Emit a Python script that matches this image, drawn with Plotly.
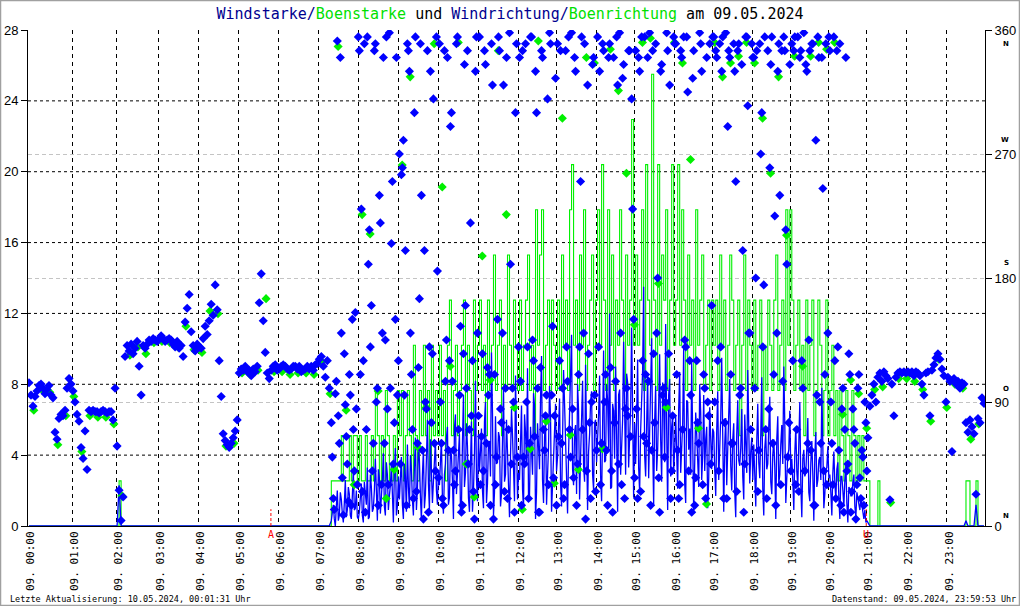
import plotly.graph_objects as go

# ---------------- data ----------------
# records per hour (the station writes records irregularly, axis is record based)
records_per_hour = [22, 22, 21, 20, 20, 20, 20, 20, 20, 20, 20, 20,
                    19, 20, 19, 20, 19, 20, 19, 19, 19, 20, 20, 19]
hour_labels = ["09. 00:00", "09. 01:00", "09. 02:00", "09. 03:00", "09. 04:00",
               "09. 05:00", "09. 06:00", "09. 07:00", "09. 08:00", "09. 09:00",
               "09. 10:00", "09. 11:00", "09. 12:00", "09. 13:00", "09. 14:00",
               "09. 15:00", "09. 16:00", "09. 17:00", "09. 18:00", "09. 19:00",
               "09. 20:00", "09. 21:00", "09. 22:00", "09. 23:00"]

speed_ticks = [0, 4, 8, 12, 16, 20, 24, 28]
dir_ticks = [0, 90, 180, 270, 360]
dir_names = ["N", "O", "S", "W", "N"]

# wind direction (deg), night records 0..150
dir_night = [104, 95, 87, 94, 98, 102, 103, 100, 96, 99,
             102, 95, 93, 68, 63, 78, 81, 80, 84, 100,
             107, 103, 98, 90, 81, 76, 57, 49, 69, 41,
             84, 83, 84, 83, 83, 82, 83, 84, 83, 82,
             83, 83, 77, 100, 58, 26, 4, 21, 123, 131,
             127, 132, 125, 129, 134, 116, 95, 131, 129, 132,
             135, 134, 136, 135, 134, 136, 138, 136, 134, 135,
             136, 135, 132, 130, 134, 129, 131, 123, 148, 158,
             168, 141, 131, 127, 132, 130, 129, 136, 145, 139,
             149, 161, 153, 175, 157, 120, 94, 67, 62, 59,
             57, 60, 64, 69, 77, 111, 114, 113, 116, 112,
             113, 109, 114, 112, 116, 162, 183, 149, 126, 111,
             107, 113, 116, 117, 113, 114, 116, 117, 116, 114,
             113, 114, 116, 116, 114, 116, 112, 113, 114, 116,
             114, 116, 113, 117, 118, 121, 123, 116, 108, 120,
             100]

# daytime records 151..418 (07:18 - 20:59), one row per hour
day_start_record = 151
dir_day = [75, 20, 96, 352, 60, 140, 8, 88, 45, 110, 15, 70, 155, 30,
           345, 230, 120, 10, 355, 215, 160, 60, 350, 100, 240, 30, 340, 135, 85, 358, 205, 45, 150, 95,
           270, 255, 280, 200, 350, 330, 110, 20, 355, 60, 165, 240, 5, 90, 345, 130, 75, 310, 40, 185,
           350, 60, 15, 105, 340, 120, 300, 55, 40, 355, 95, 10, 125, 160, 345, 70, 80, 25, 330, 140,
           355, 65, 40, 335, 115, 110, 350, 5, 30, 150, 345, 75, 320, 100, 20, 358, 45, 90, 300, 50,
           340, 15, 50, 350, 130, 60, 355, 120, 330, 100, 10, 345, 70, 80, 310, 358, 95, 35, 325,
           350, 120, 60, 20, 345, 105, 70, 358, 35, 330, 45, 130, 355, 140, 5, 320, 75, 90, 340, 25,
           355, 330, 60, 345, 110, 15, 350, 40, 340, 105, 320, 358, 30, 335, 85, 80, 345, 310, 150,
           345, 20, 330, 355, 65, 110, 340, 358, 55, 125, 350, 180, 10, 335, 100, 90, 345, 320, 40, 355,
           350, 55, 30, 340, 355, 130, 315, 120, 10, 345, 35, 75, 358, 330, 110, 20, 90, 350, 160,
           355, 345, 120, 350, 330, 20, 358, 290, 340, 60, 350, 250, 345, 95, 335, 10, 355, 305, 140, 350,
           340, 180, 25, 350, 300, 175, 70, 345, 260, 355, 110, 15, 330, 240, 345, 355, 215, 50, 335,
           350, 345, 30, 355, 340, 120, 358, 335, 60, 345, 350, 15, 280, 355, 90, 340, 40, 350, 140,
           345, 60, 355, 20, 130, 350, 85, 10, 340, 45, 110, 25, 70, 5, 100, 35, 55, 15, 75]

# intermediate (half-record) direction readings during the day
dir_day_half = [50, 12, 105, 80, 340, 35, 125, 65, 18, 95, 150, 40, 85, 355,
                110, 25, 350, 70, 190, 130, 40, 345, 90, 15, 220, 140, 60, 355, 30, 100, 250, 75, 340, 120,
                45, 260, 95, 15, 345, 140, 70, 300, 25, 115, 350, 55, 200, 85, 10, 330, 125, 60, 355, 35,
                90, 20, 345, 135, 55, 290, 105, 30, 350, 70, 145, 15, 335, 100, 45, 220, 120, 5, 355, 80,
                30, 125, 345, 60, 95, 15, 320, 110, 50, 355, 85, 140, 25, 340, 70, 190, 100, 10, 350, 130,
                105, 345, 45, 90, 20, 355, 135, 65, 300, 10, 115, 340, 55, 95, 30, 350, 145, 80, 15,
                65, 345, 100, 30, 130, 355, 50, 85, 340, 15, 110, 250, 70, 350, 40, 125, 20, 335, 95, 55,
                130, 30, 350, 90, 55, 340, 115, 10, 75, 355, 45, 140, 325, 20, 100, 345, 65, 230, 35,
                85, 340, 25, 120, 355, 60, 105, 15, 345, 75, 140, 35, 330, 95, 50, 358, 125, 20, 80, 350,
                110, 20, 345, 70, 135, 355, 40, 95, 325, 15, 120, 60, 350, 30, 100, 340, 80, 45, 355,
                90, 340, 40, 130, 355, 75, 20, 345, 110, 60, 330, 25, 350, 100, 200, 45, 355, 140, 70, 340,
                100, 345, 55, 270, 130, 355, 20, 85, 335, 60, 225, 140, 350, 30, 105, 345, 190, 75, 40,
                120, 355, 70, 25, 345, 100, 40, 330, 135, 55, 350, 15, 95, 340, 60, 245, 110, 30, 355,
                90, 30, 120, 345, 55, 15, 100, 70, 40, 125, 10, 85, 60, 30, 110, 20, 50, 90, 40]

speed_day = [0.3, 1.2, 0.0, 2.0, 0.6, 1.5, 0.2, 2.6, 0.9, 1.8, 0.4, 3.1, 1.0, 0.5,
             0.8, 2.4, 0.2, 1.9, 3.3, 0.5, 2.2, 1.0, 3.8, 0.3, 2.7, 1.4, 4.1, 0.6, 2.9, 1.7, 3.5, 0.2, 4.4, 1.1,
             1.5, 3.9, 0.4, 2.8, 4.6, 1.0, 3.2, 0.6, 5.0, 2.1, 3.7, 0.3, 4.3, 1.8, 6.0, 0.9, 3.4, 2.5, 4.8, 1.2,
             2.3, 4.9, 0.7, 3.5, 5.6, 1.6, 4.0, 0.4, 6.3, 2.8, 5.2, 1.1, 7.4, 3.0, 4.5, 0.8, 5.9, 2.0, 8.2, 1.4,
             3.1, 5.5, 1.0, 7.0, 2.4, 4.8, 9.8, 0.6, 6.2, 3.6, 5.0, 1.8, 7.8, 2.9, 4.2, 0.5, 6.6, 3.3, 8.5, 1.5,
             2.6, 6.8, 0.9, 5.3, 8.9, 1.7, 4.6, 7.5, 0.4, 5.8, 3.2, 9.6, 1.3, 6.1, 2.7, 7.9, 0.8, 4.4, 6.9,
             3.9, 7.2, 1.1, 8.8, 4.5, 0.7, 6.4, 10.8, 2.3, 5.7, 8.0, 1.5, 6.9, 3.4, 9.1, 0.9, 5.2, 7.6, 2.0, 6.0,
             4.8, 8.5, 1.4, 9.9, 3.7, 7.1, 12.0, 2.2, 6.5, 9.0, 0.8, 7.7, 4.1, 10.4, 2.9, 8.1, 5.4, 11.2, 1.6,
             3.5, 9.4, 1.9, 7.3, 13.5, 2.8, 8.6, 5.0, 10.6, 1.2, 7.9, 4.3, 9.7, 2.5, 6.8, 11.4, 0.9, 8.3, 5.6, 3.0,
             6.2, 2.1, 8.7, 4.4, 10.1, 1.3, 7.0, 5.5, 9.2, 0.7, 6.4, 3.8, 8.0, 2.6, 7.4, 4.9, 1.0, 6.7, 3.2,
             5.3, 1.7, 7.6, 3.9, 9.5, 0.8, 6.1, 4.2, 8.3, 2.0, 5.8, 0.5, 7.1, 3.4, 6.6, 1.5, 4.7, 8.8, 2.4, 5.0,
             4.6, 1.1, 6.9, 2.7, 8.4, 0.6, 5.2, 3.5, 7.3, 1.8, 4.9, 0.4, 6.2, 2.9, 5.7, 9.0, 1.3, 4.0, 6.5,
             3.8, 0.9, 5.6, 2.2, 7.0, 0.5, 4.3, 3.0, 6.1, 1.4, 4.8, 0.3, 5.3, 2.6, 3.9, 7.8, 1.0, 3.2, 4.5,
             2.9, 0.6, 4.2, 1.5, 3.6, 0.4, 2.8, 1.1, 3.4, 0.2, 2.1, 1.7, 2.9, 0.5, 1.6, 0.9, 1.2, 0.4, 0.2]

# intermediate (half-record) wind speed readings during the day
speed_day_half = [0.8, 0.4, 1.1, 0.3, 1.9, 0.7, 1.3, 0.5, 2.2, 0.6, 1.7, 0.9, 2.0, 0.4,
                  1.6, 0.6, 2.5, 1.2, 0.4, 2.9, 0.8, 2.0, 1.4, 3.2, 0.7, 2.6, 1.1, 3.6, 0.9, 2.3, 1.5, 3.0, 0.6, 2.8,
                  2.7, 1.2, 3.5, 0.8, 2.2, 4.0, 1.5, 3.3, 0.9, 4.4, 1.7, 2.9, 1.0, 3.8, 2.4, 4.9, 1.3, 3.6, 2.0, 3.1,
                  3.6, 1.5, 2.9, 5.0, 1.2, 4.3, 2.6, 5.5, 1.8, 3.9, 0.9, 4.7, 2.2, 5.8, 1.6, 3.4, 0.8, 4.1, 2.7, 5.2,
                  4.2, 2.0, 5.9, 1.3, 4.6, 2.8, 6.4, 1.9, 3.5, 5.3, 1.1, 4.8, 2.5, 6.0, 1.7, 3.9, 5.1, 1.4, 4.4, 3.0,
                  4.7, 2.1, 6.3, 3.4, 1.5, 5.6, 2.9, 6.8, 1.9, 4.0, 7.2, 2.6, 5.0, 1.2, 4.5, 6.1, 2.3, 5.4, 3.1,
                  5.6, 2.4, 4.9, 6.9, 2.8, 4.1, 7.8, 3.2, 5.3, 1.8, 6.5, 3.9, 8.2, 2.5, 5.0, 4.2, 7.0, 2.9, 5.8, 3.6,
                  6.3, 2.8, 5.5, 3.6, 8.0, 4.4, 2.1, 6.9, 3.8, 5.2, 7.4, 2.9, 6.0, 4.7, 8.6, 3.3, 6.6, 4.0, 5.8,
                  6.1, 3.3, 5.4, 8.8, 4.0, 6.5, 2.7, 7.2, 4.6, 5.9, 3.1, 6.8, 4.9, 8.1, 3.6, 5.5, 7.4, 2.8, 6.2, 4.4,
                  4.1, 6.6, 3.0, 5.8, 2.4, 7.1, 4.3, 2.9, 6.0, 3.5, 5.2, 2.2, 6.4, 4.0, 3.1, 5.6, 2.7, 4.8, 5.5,
                  3.2, 5.4, 2.6, 6.1, 3.8, 4.6, 2.3, 5.9, 3.4, 4.9, 1.9, 5.2, 3.7, 4.4, 2.8, 6.3, 3.0, 5.1, 4.2, 2.6,
                  2.9, 4.8, 3.6, 5.2, 2.1, 4.4, 3.2, 5.6, 2.5, 4.0, 3.3, 4.9, 2.4, 4.6, 3.5, 5.8, 2.7, 4.3, 3.0,
                  2.6, 4.1, 3.1, 4.7, 2.3, 3.8, 2.8, 4.4, 1.9, 3.6, 2.9, 4.0, 2.2, 3.7, 2.6, 4.5, 1.8, 3.3, 2.7,
                  1.9, 3.0, 2.4, 3.2, 1.6, 2.8, 2.0, 2.6, 1.3, 2.2, 1.7, 2.5, 1.1, 1.9, 1.3, 1.6, 0.8, 0.9, 0.3]

gust_day = [2.55, 2.55, 2.55, 2.55, 2.55, 5.1, 2.55, 2.55, 2.55, 5.1, 2.55, 5.1, 5.1, 2.55,
            5.1, 2.55, 2.55, 5.1, 2.55, 2.55, 5.1, 2.55, 7.65, 5.1, 2.55, 5.1, 2.55, 7.65, 5.1, 2.55, 2.55, 5.1, 2.55, 7.65,
            5.1, 7.65, 2.55, 5.1, 7.65, 5.1, 2.55, 10.2, 5.1, 2.55, 7.65, 5.1, 10.2, 5.1, 7.65, 2.55, 10.2, 5.1, 7.65, 5.1,
            10.2, 5.1, 7.65, 2.55, 10.2, 12.75, 5.1, 7.65, 10.2, 5.1, 7.65, 10.2, 12.75, 5.1, 10.2, 7.65, 5.1, 12.75, 7.65, 10.2,
            12.75, 7.65, 10.2, 5.1, 12.75, 7.65, 10.2, 15.3, 7.65, 10.2, 12.75, 5.1, 10.2, 7.65, 15.3, 10.2, 7.65, 12.75, 10.2, 7.65,
            12.75, 7.65, 10.2, 12.75, 15.3, 7.65, 10.2, 5.1, 17.85, 10.2, 15.3, 17.85, 7.65, 10.2, 12.75, 7.65, 12.75, 10.2, 7.65,
            12.75, 7.65, 15.3, 10.2, 12.75, 7.65, 17.85, 20.4, 10.2, 12.75, 7.65, 15.3, 10.2, 17.85, 7.65, 10.2, 12.75, 15.3, 7.65, 12.75,
            17.85, 10.2, 20.4, 12.75, 7.65, 17.85, 10.2, 15.3, 7.65, 12.75, 10.2, 17.85, 12.75, 7.65, 15.3, 10.2, 12.75, 22.95, 10.2,
            15.3, 10.2, 12.75, 17.85, 7.65, 20.4, 12.75, 10.2, 25.5, 12.75, 7.65, 20.4, 10.2, 15.3, 12.75, 17.85, 7.65, 12.75, 20.4, 10.2,
            12.75, 20.4, 10.2, 17.85, 12.75, 7.65, 15.3, 10.2, 12.75, 7.65, 17.85, 10.2, 12.75, 15.3, 7.65, 10.2, 12.75, 7.65, 12.75,
            10.2, 12.75, 7.65, 15.3, 10.2, 12.75, 7.65, 10.2, 15.3, 12.75, 7.65, 10.2, 12.75, 5.1, 10.2, 15.3, 7.65, 12.75, 10.2, 7.65,
            12.75, 7.65, 10.2, 12.75, 5.1, 10.2, 7.65, 12.75, 10.2, 7.65, 12.75, 15.3, 7.65, 10.2, 12.75, 7.65, 17.85, 10.2, 17.85,
            12.75, 7.65, 10.2, 12.75, 7.65, 10.2, 5.1, 12.75, 7.65, 10.2, 12.75, 5.1, 7.65, 12.75, 10.2, 5.1, 7.65, 12.75, 5.1,
            7.65, 10.2, 5.1, 7.65, 2.55, 7.65, 5.1, 2.55, 7.65, 5.1, 2.55, 7.65, 5.1, 2.55, 5.1, 2.55, 5.1, 2.55, 2.55]

# evening records 419..477
dir_evening = [64, 87, 95, 103, 90, 108, 111, 105, 112, 109, 107, 19, 103, 80, 108, 111, 112, 111, 112, 111,
               112, 111, 112, 109, 112, 111, 109, 103, 95, 111, 112, 80, 113, 117, 122, 125, 121, 114, 109, 90,
               108, 105, 54, 107, 103, 105, 100, 104, 103, 75, 68, 77, 72, 67, 23, 78, 75, 93, 89]

# short wind blips outside the windy period
blip_rec = [45, 419, 424, 468, 469, 473]
blip_speed = [2.3, 0.2, 0.0, 0.3, 0.0, 1.2]
blip_gust = [2.55, 2.55, 2.55, 2.55, 2.55, 2.55]

# gust direction, logged every 4th record starting at record 2
gust_dir = [84, 99, 97, 59, 80, 94, 54, 80, 79, 79, 74, 22, 124, 130, 125, 133, 134, 133, 130, 145,
            128, 126, 156, 154, 58, 60, 111, 110, 113, 165, 112, 112, 110, 111, 111, 110, 119, 96,
            348, 84, 30, 226, 212, 98, 20, 41, 262, 326, 57, 86, 350, 246, 116, 351, 45, 21, 196, 106,
            345, 226, 86, 12, 56, 352, 76, 31, 296, 66, 41, 340, 336, 56, 346, 316, 256, 146, 351, 354,
            176, 86, 351, 336, 266, 71, 16, 351, 326, 336, 341, 351, 336, 296, 256, 326, 211, 341, 116, 341,
            351, 346, 351, 81, 106, 96, 71,
            99, 101, 17, 107, 107, 105, 99, 76, 121, 86, 103, 100, 63, 74]
gust_dir_first, gust_dir_step = 2, 4

sun_events = [("A", 5, 49), ("U", 20, 59)]

# ---------------- build ----------------
hour_start = [0]
for n in records_per_hour:
    hour_start.append(hour_start[-1] + n)
N_REC = hour_start[-1]
day_end_record = day_start_record + len(speed_day)

direction = dir_night + dir_day + dir_evening
speed = [0.0] * N_REC
gust = [0.0] * N_REC
for k, (s, g) in enumerate(zip(speed_day, gust_day)):
    speed[day_start_record + k] = s
    gust[day_start_record + k] = g
for r, s, g in zip(blip_rec, blip_speed, blip_gust):
    speed[r] = s
    gust[r] = g

x_rec = [i + 0.5 for i in range(N_REC)]

# speed line incl. the half-record readings during the day
xs_line, ys_line = [], []
for i in range(N_REC):
    xs_line.append(i + 0.5)
    ys_line.append(speed[i])
    if day_start_record <= i < day_end_record:
        xs_line.append(i + 1.0)
        ys_line.append(speed_day_half[i - day_start_record])

x_dir_half = [day_start_record + k + 1.0 for k in range(len(dir_day_half))]
x_gdir = [gust_dir_first + gust_dir_step * k + 0.9 for k in range(len(gust_dir))]

BLUE = "#0000FF"
GREEN = "#00F000"
MONO = "DejaVu Sans Mono"

fig = go.Figure()
fig.add_trace(go.Scatter(x=x_rec, y=gust, mode="lines", yaxis="y",
                         line=dict(color=GREEN, width=1.1, shape="hv"), hoverinfo="skip"))
fig.add_trace(go.Scatter(x=xs_line, y=ys_line, mode="lines", yaxis="y",
                         line=dict(color=BLUE, width=1.3), hoverinfo="skip"))
fig.add_trace(go.Scatter(x=x_gdir, y=gust_dir, mode="markers", yaxis="y2",
                         marker=dict(symbol="diamond", size=7, color=GREEN, line=dict(width=0)),
                         hoverinfo="skip"))
fig.add_trace(go.Scatter(x=x_dir_half, y=dir_day_half, mode="markers", yaxis="y2",
                         marker=dict(symbol="diamond", size=7, color=BLUE, line=dict(width=0)),
                         hoverinfo="skip"))
fig.add_trace(go.Scatter(x=x_rec, y=direction, mode="markers", yaxis="y2",
                         marker=dict(symbol="diamond", size=7, color=BLUE, line=dict(width=0)),
                         hoverinfo="skip"))

shapes = []
for v in speed_ticks[1:-1]:
    shapes.append(dict(type="line", xref="x", yref="y", x0=0, x1=N_REC, y0=v, y1=v,
                       layer="below", line=dict(color="black", width=1, dash="3px,3px")))
for label, h, m in sun_events:
    xs = hour_start[h] + m / 60 * records_per_hour[h]
    shapes.append(dict(type="line", xref="x", yref="y", x0=xs, x1=xs, y0=0, y1=0.95,
                       line=dict(color="red", width=1, dash="3px,2px")))
# outer frame
shapes.append(dict(type="rect", xref="paper", yref="paper",
                   x0=-27.5 / 957, x1=1 + 34.5 / 957, y0=-79.5 / 496, y1=1 + 29.5 / 496,
                   line=dict(color="#A0A0A0", width=1.5)))

annotations = []
for label, h, m in sun_events:
    xs = hour_start[h] + m / 60 * records_per_hour[h]
    annotations.append(dict(x=xs, y=0, xref="x", yref="y", text=label, showarrow=False,
                            yanchor="top", yshift=-1, font=dict(family=MONO, size=10, color="red")))
comp_shift = [10, 13, 15, 14, -14]
for v, name, sh in zip(dir_ticks, dir_names, comp_shift):
    annotations.append(dict(x=1, xref="paper", xshift=26, y=v, yref="y2", yshift=sh,
                            text="<b>" + name + "</b>", showarrow=False,
                            font=dict(family="DejaVu Sans", size=7, color="black")))
annotations.append(dict(x=-20 / 957, xref="paper", xanchor="left", y=-73 / 496, yref="paper",
                        yanchor="middle", showarrow=False,
                        text="Letzte Aktualisierung: 10.05.2024, 00:01:31 Uhr",
                        font=dict(family=MONO, size=8.5, color="black")))
annotations.append(dict(x=1 + 33 / 957, xref="paper", xanchor="right", y=-73 / 496, yref="paper",
                        yanchor="middle", showarrow=False,
                        text="Datenstand: 09.05.2024, 23:59:53 Uhr",
                        font=dict(family=MONO, size=8.5, color="black")))

title_html = ("<span style='color:#000090'>Windstarke/</span>"
              "<span style='color:#00E000'>Boenstarke</span>"
              "<span style='color:#000000'> und </span>"
              "<span style='color:#000090'>Windrichtung/</span>"
              "<span style='color:#00E000'>Boenrichtung</span>"
              "<span style='color:#000000'> am 09.05.2024</span>")

fig.update_layout(
    width=1020, height=606,
    margin=dict(l=28, r=35, t=30, b=80, autoexpand=False),
    paper_bgcolor="white", plot_bgcolor="white",
    showlegend=False,
    title=dict(text=title_html, x=0.5, xref="container", xanchor="center",
               y=1 - 14 / 606, yref="container", yanchor="middle",
               font=dict(family=MONO, size=15, color="black")),
    xaxis=dict(range=[0, N_REC], tickmode="array", tickvals=hour_start[:-1], ticktext=hour_labels,
               tickangle=-90, ticks="", showgrid=True, gridcolor="black", gridwidth=1,
               griddash="4px,4px", showline=True, linecolor="black", linewidth=1,
               zeroline=False, ticklabelshift=2, automargin=False,
               tickfont=dict(family=MONO, size=11, color="black")),
    yaxis=dict(range=[0, 28], tickmode="array", tickvals=speed_ticks, showgrid=False,
               showline=True, linecolor="black", linewidth=1, ticks="outside", ticklen=6,
               tickcolor="black", zeroline=False, automargin=False,
               tickfont=dict(family="Liberation Sans", size=13, color="black")),
    yaxis2=dict(range=[0, 360], overlaying="y", side="right", tickmode="array",
                tickvals=dir_ticks, showgrid=True, gridcolor="#C4C4C4", griddash="4px,3px",
                showline=True, linecolor="black", linewidth=1, ticks="outside", ticklen=6,
                tickcolor="black", zeroline=False, automargin=False,
                tickfont=dict(family="Liberation Sans", size=13, color="black")),
    shapes=shapes,
    annotations=annotations,
)

fig.write_html("out.html", config={"displayModeBar": False},
               post_script="document.body.style.margin='0px';document.body.style.overflow='hidden';")
